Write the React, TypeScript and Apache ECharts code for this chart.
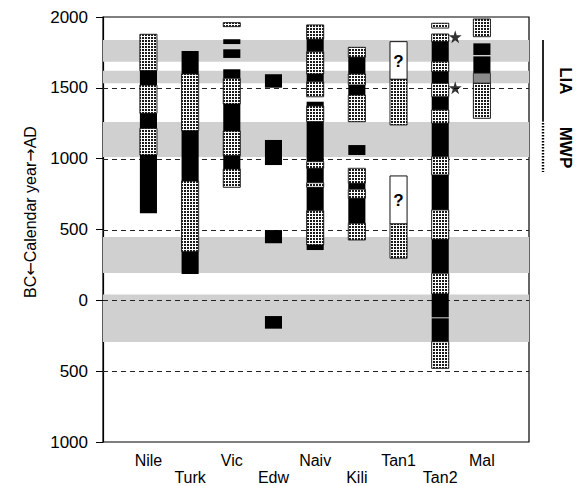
import { useEffect, useRef } from 'react';
import * as echarts from 'echarts';

const FONT = "'Liberation Sans', Arial, Helvetica, sans-serif";

const sites = ['Nile', 'Turk', 'Vic', 'Edw', 'Naiv', 'Kili', 'Tan1', 'Tan2', 'Mal'];
const dashedYears = [1500, 1000, 500, 0, -500];
const dryBands: [number, number][] = [[1685, 1838], [1532, 1620], [1012, 1259], [193, 447], [-294, 42]];

// segments: [top year, bottom year, kind]  b = black, d = dotted, w = uncertain (?), g = grey
const nile = [[1878, 1621, 'd'], [1621, 1520, 'b'], [1520, 1320, 'd'], [1320, 1214, 'b'], [1214, 1026, 'd'], [1026, 614, 'b']];
const turk = [[1760, 1598, 'b'], [1598, 1197, 'd'], [1197, 842, 'b'], [842, 343, 'd'], [343, 186, 'b']];
const vic = [[1960, 1932, 'd'], [1843, 1809, 'b'], [1772, 1711, 'b'], [1631, 1567, 'b'], [1567, 1386, 'd'], [1386, 1195, 'b'], [1195, 1021, 'd'], [1021, 927, 'b'], [927, 798, 'd']];
const edw = [[1596, 1501, 'b'], [1132, 955, 'b'], [496, 403, 'b'], [-111, -200, 'b']];
const naiv = [[1944, 1843, 'd'], [1843, 1755, 'b'], [1755, 1598, 'd'], [1598, 1543, 'b'], [1543, 1437, 'd'], [1402, 1372, 'b'], [1372, 1261, 'd'], [1261, 979, 'b'], [979, 932, 'd'], [932, 830, 'b'], [830, 798, 'd'], [798, 633, 'b'], [633, 391, 'd'], [391, 355, 'b']];
const kili = [[1786, 1716, 'd'], [1716, 1598, 'b'], [1598, 1520, 'd'], [1520, 1449, 'b'], [1449, 1261, 'd'], [1096, 1026, 'b'], [932, 826, 'd'], [826, 784, 'b'], [784, 720, 'd'], [720, 544, 'b'], [544, 426, 'd']];
const tan1 = [[1826, 1560, 'w'], [1560, 1238, 'd'], [878, 539, 'w'], [539, 297, 'd']];
const tan2 = [[1956, 1922, 'd'], [1880, 1826, 'd'], [1826, 1684, 'b'], [1684, 1614, 'd'], [1614, 1532, 'b'], [1532, 1437, 'd'], [1437, 1344, 'b'], [1344, 1250, 'd'], [1250, 1014, 'b'], [1014, 885, 'd'], [885, 638, 'b'], [638, 431, 'd'], [431, 191, 'b'], [191, 45, 'd'], [45, -120, 'b'], [-127, -292, 'b'], [-292, -480, 'd']];
const mal = [[1986, 1861, 'd'], [1814, 1732, 'b'], [1722, 1603, 'b'], [1603, 1532, 'g'], [1532, 1285, 'd']];
const columns = [nile, turk, vic, edw, naiv, kili, tan1, tan2, mal];

const stars = [[8, 1860], [8, 1500]];
const periods = ['LIA', 'MWP'];
const periodRanges = [[1260, 1838], [906, 1252]];

const KINDS = ['b', 'd', 'w', 'g'];

function makeDots() {
  const c = document.createElement('canvas');
  c.width = 3;
  c.height = 3;
  const ctx = c.getContext('2d')!;
  ctx.fillStyle = '#ffffff';
  ctx.fillRect(0, 0, 3, 3);
  ctx.fillStyle = '#1a1a1a';
  ctx.fillRect(1, 1, 2, 2);
  return c;
}

export default function App() {
  const ref = useRef<HTMLDivElement>(null);
  useEffect(() => {
    const chart = echarts.init(ref.current!, null, { renderer: 'svg' });
    const dots = makeDots();
    const dotFill: any = { image: dots, repeat: 'repeat', imageWidth: 3, imageHeight: 3 };

    const colData: number[][] = [];
    columns.forEach((segs, i) => {
      segs.forEach((s: any) => colData.push([i + 1, s[0], s[1], KINDS.indexOf(s[2])]));
    });

    const option: any = {
      animation: false,
      backgroundColor: '#fff',
      grid: { left: 103, right: 55, top: 17, bottom: 44, show: true, borderColor: '#000', borderWidth: 1.2, backgroundColor: 'transparent', outerBoundsMode: 'none' },
      xAxis: {
        type: 'value',
        min: -0.09,
        max: 10.13,
        axisLine: { show: false, onZero: false },
        axisTick: { show: false },
        splitLine: { show: false },
        axisLabel: {
          customValues: sites.map((_, i) => i + 1),
          formatter: (v: number) => {
            const i = Math.round(v) - 1;
            return i % 2 === 1 ? '\n' + sites[i] : sites[i];
          },
          fontSize: 16,
          lineHeight: 17,
          color: '#000',
          fontFamily: FONT,
          margin: 10,
        },
      },
      yAxis: {
        type: 'value',
        min: -1000,
        max: 2000,
        interval: 500,
        axisLine: { show: true, onZero: false, lineStyle: { color: '#000', width: 1.2 } },
        axisTick: { show: true, length: 7, lineStyle: { color: '#000' } },
        splitLine: { show: false },
        axisLabel: {
          formatter: (v: number) => String(Math.abs(v)),
          fontSize: 17,
          color: '#000',
          fontFamily: FONT,
          margin: 15,
        },
      },
      graphic: [
        {
          type: 'text',
          x: 30,
          y: 212,
          rotation: Math.PI / 2,
          style: {
            text: '{t|BC}{a|\u2190}{t|Calendar year}{a|\u2192}{t|AD}',
            fontSize: 16,
            fontFamily: FONT,
            fill: '#000',
            align: 'center',
            verticalAlign: 'middle',
            rich: {
              t: { fontSize: 16, fontFamily: FONT, fill: '#000', color: '#000' },
              a: { fontSize: 16, fontFamily: "'DejaVu Sans', sans-serif", fill: '#000', color: '#000' },
            },
          },
        },
      ],
      series: [
        {
          type: 'custom',
          name: 'bands',
          data: dryBands.map((b) => [b[0], b[1]]),
          encode: { y: [0, 1] },
          renderItem: (params: any, api: any) => {
            const cs = params.coordSys;
            const yTop = api.coord([0, api.value(1)])[1];
            const yBot = api.coord([0, api.value(0)])[1];
            return { type: 'rect', shape: { x: cs.x, y: yTop, width: cs.width, height: yBot - yTop }, style: { fill: '#d0d0d0' } };
          },
        },
        {
          type: 'custom',
          name: 'dashes',
          data: dashedYears.map((v) => [v]),
          encode: { y: 0 },
          renderItem: (params: any, api: any) => {
            const cs = params.coordSys;
            const y = Math.round(api.coord([0, api.value(0)])[1]) + 0.5;
            return { type: 'line', shape: { x1: cs.x, y1: y, x2: cs.x + cs.width, y2: y }, style: { stroke: '#222', lineWidth: 1.1, lineDash: [5, 4] } };
          },
        },
        {
          type: 'custom',
          name: 'columns',
          data: colData,
          encode: { x: 0, y: [1, 2] },
          renderItem: (params: any, api: any) => {
            const x = api.value(0);
            const p1 = api.coord([x, api.value(1)]);
            const p2 = api.coord([x, api.value(2)]);
            const w = api.size([0.41, 0])[0];
            const kind = KINDS[api.value(3)];
            const shape = { x: p1[0] - w / 2, y: p1[1], width: w, height: p2[1] - p1[1] };
            if (kind === 'b') return { type: 'rect', shape, style: { fill: '#000' } };
            if (kind === 'g') return { type: 'rect', shape, style: { fill: '#8a8a8a', stroke: '#222', lineWidth: 0.8 } };
            if (kind === 'd') return { type: 'rect', shape, style: { fill: dotFill, stroke: '#111', lineWidth: 0.9 } };
            return {
              type: 'group',
              children: [
                { type: 'rect', shape, style: { fill: '#fff', stroke: '#111', lineWidth: 1 } },
                { type: 'text', x: p1[0], y: (p1[1] + p2[1]) / 2 + 1, style: { text: '?', fontSize: 17, fontWeight: 'bold', fontFamily: FONT, fill: '#000', align: 'center', verticalAlign: 'middle' } },
              ],
            };
          },
        },
        {
          type: 'scatter',
          name: 'stars',
          data: stars,
          symbol: 'path://M50,0 L61,35 L98,35 L68,57 L79,91 L50,70 L21,91 L32,57 L2,35 L39,35 Z',
          symbolSize: 13,
          symbolOffset: [15, 0],
          itemStyle: { color: '#000' },
        },
        {
          type: 'custom',
          name: 'periods',
          clip: false,
          data: periodRanges.map((r, i) => [r[0], r[1], i]),
          encode: { y: [0, 1] },
          renderItem: (params: any, api: any) => {
            const cs = params.coordSys;
            const x = cs.x + cs.width + 14;
            const yTop = api.coord([0, api.value(1)])[1];
            const yBot = api.coord([0, api.value(0)])[1];
            const i = api.value(2);
            return {
              type: 'group',
              children: [
                { type: 'line', shape: { x1: x, y1: yTop, x2: x, y2: yBot }, style: i === 0 ? { stroke: '#000', lineWidth: 1.7 } : { stroke: '#000', lineWidth: 2.4, lineDash: [1.5, 1.5] } },
                { type: 'text', x: x + 22, y: (yTop + yBot) / 2, rotation: -Math.PI / 2, style: { text: periods[i], fontSize: 17, fontWeight: 'bold', fontFamily: FONT, fill: '#000', align: 'center', verticalAlign: 'middle' } },
              ],
            };
          },
        },
      ],
    };
    chart.setOption(option);
    return () => chart.dispose();
  }, []);
  return <div ref={ref} style={{ position: 'fixed', left: 0, top: 0, width: 584, height: 486 }} />;
}
